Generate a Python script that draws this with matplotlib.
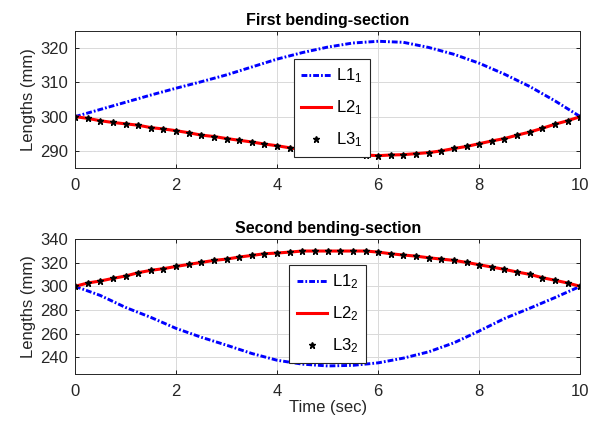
import matplotlib
matplotlib.use("Agg")
import matplotlib.pyplot as plt

plt.rcParams["font.family"] = ["Liberation Sans", "DejaVu Sans"]
plt.rcParams["mathtext.fontset"] = "custom"
plt.rcParams["mathtext.rm"] = "Liberation Sans"
plt.rcParams["mathtext.it"] = "Liberation Sans"

# time grids
t_line = [i * 0.5 for i in range(21)]
t_mark = [i * 0.25 for i in range(41)]

# first bending-section
l1_first = [300.0, 302.1, 304.2, 306.3, 308.3, 310.2, 312.2, 314.5, 316.8, 318.7,
            320.3, 321.5, 322.0, 321.7, 320.2, 318.2, 315.6, 312.4, 308.8, 304.6, 300.0]
l2_first = [300.0, 299.5, 298.8, 298.3, 297.9, 297.5, 296.8, 296.4, 295.9, 295.3,
            294.6, 294.2, 293.6, 293.1, 292.6, 292.0, 291.5, 290.9, 290.3, 289.9,
            289.5, 289.2, 289.0, 288.8, 288.6, 288.8, 288.9, 289.2, 289.5, 290.0,
            290.7, 291.3, 292.1, 292.9, 293.6, 294.6, 295.5, 296.6, 297.8, 298.8, 300.0]

# second bending-section
l1_second = [300.0, 292.3, 282.2, 273.8, 264.5, 257.0, 250.3, 243.3, 237.6, 234.3,
             232.8, 233.3, 235.4, 239.4, 244.7, 252.3, 262.3, 272.8, 281.5, 290.5, 300.0]
l2_second = [300.0, 302.8, 304.5, 306.7, 308.7, 311.5, 313.5, 314.9, 316.8, 318.5,
             320.2, 321.9, 323.0, 324.7, 326.1, 327.5, 328.1, 328.9, 329.8, 329.8,
             329.8, 329.8, 329.8, 329.8, 328.9, 327.5, 326.4, 325.5, 324.1, 323.0,
             321.9, 320.2, 318.2, 316.3, 314.3, 312.1, 310.1, 307.3, 305.1, 302.8, 300.0]

x_ticks = [0, 2, 4, 6, 8, 10]
y_ticks_first = [290, 300, 310, 320]
y_ticks_second = [240, 260, 280, 300, 320, 340]

panels = [
    ("First bending-section", l1_first, l2_first, "1", (285, 325), y_ticks_first,
     [0.1265, 0.6056, 0.852, 0.3216], (0.433, 0.796)),
    ("Second bending-section", l1_second, l2_second, "2", (226, 340), y_ticks_second,
     [0.1265, 0.1221, 0.852, 0.317], (0.424, 0.807)),
]

fig = plt.figure(figsize=(5.93, 4.26), dpi=100)

for idx, (title, l1, l2, sub, ylim, yticks, rect, anchor) in enumerate(panels):
    ax = fig.add_axes(rect)
    ax.plot(t_line, l1, color="blue", linewidth=2.1,
            linestyle=(0, (2.0, 0.7, 0.6, 0.7)), label=f"L1$_{sub}$")
    ax.plot(t_mark, l2, color="red", linewidth=2.2, label=f"L2$_{sub}$")
    ax.plot(t_mark, l2, linestyle="none", marker="*", color="black",
            markersize=4.5, label=f"L3$_{sub}$")
    ax.set_xlim(0, 10)
    ax.set_ylim(*ylim)
    ax.set_xticks(x_ticks)
    ax.set_yticks(yticks)
    ax.grid(True, color="#d9d9d9", linewidth=0.7)
    ax.set_axisbelow(True)
    ax.tick_params(direction="in", top=True, right=True, labelsize=12,
                   labelcolor="#262626", length=3, width=0.6)
    ax.tick_params(axis="x", pad=7)
    ax.tick_params(axis="y", pad=5)
    for spine in ax.spines.values():
        spine.set_linewidth(0.7)
        spine.set_color("#262626")
    ax.set_title(title, fontsize=11.5, fontweight="bold", pad=4)
    ax.set_ylabel("Lengths (mm)", fontsize=12, color="#262626", labelpad=3)
    if idx == 1:
        ax.set_xlabel("Time (sec)", fontsize=12, color="#262626", labelpad=1)
    leg = ax.legend(loc="upper left", bbox_to_anchor=anchor, borderaxespad=0,
                    fontsize=12, fancybox=False, edgecolor="#262626",
                    framealpha=1, labelspacing=0.8, handlelength=1.8,
                    handletextpad=0.3, borderpad=0.45)
    leg.get_frame().set_linewidth(0.8)

fig.savefig("out.png", dpi=100)
